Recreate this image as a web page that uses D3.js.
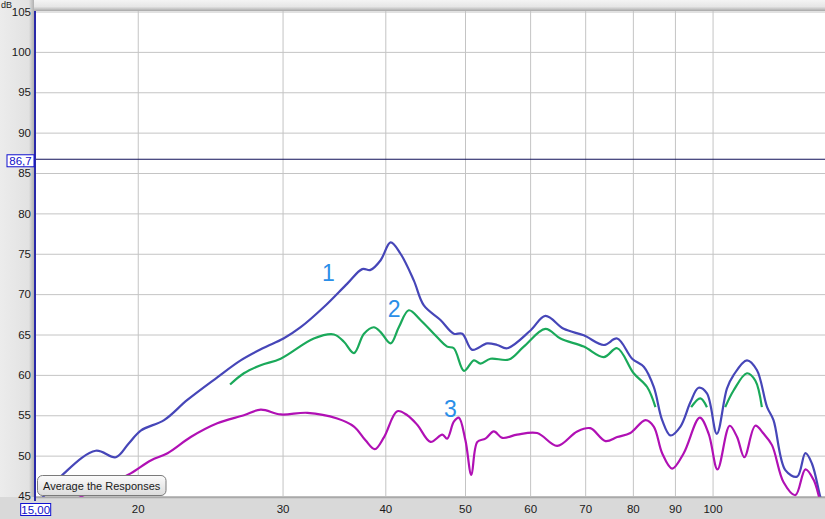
<!DOCTYPE html>
<html><head><meta charset="utf-8">
<script src="https://cdn.jsdelivr.net/npm/d3@7"></script>
<style>
body{margin:0;overflow:hidden;background:#fff}
svg{display:block;font-family:"Liberation Sans",Arial,sans-serif}
</style></head>
<body><svg id="c" width="825" height="519"></svg>
<script>
// ---- data ----
const freqTicks = [20, 30, 40, 50, 60, 70, 80, 90, 100];
const dbTicks = [45, 50, 55, 60, 65, 70, 75, 80, 85, 90, 95, 100, 105];
const markerDb = 86.7;
const markerDbLabel = "86,7";
const startFreqLabel = "15,00";
const seriesLabels = ["1", "2", "3"];

const s1Freq = [15.24,16.27,17.78,18.81,19.5,20.17,21.53,22.98,24.99,26.68,28.38,30.08,31.56,33.68,35.96,37.5,38.38,39.48,40.6,41.74,43.32,44.56,46.68,48.46,49.62,51.02,53.2,54.72,56.28,60.06,62.62,65.92,69.72,73.74,76.56,79.84,82.48,84.82,86.84,88.88,91.4,93.98,96.16,98.44,101.2,104.1,106.1,110.1,113.2,116.5,118.6,122.6,126.7,129.7,132.1,135.2,136.7];
const s1Db   = [44.5,47.8,50.6,49.8,51.5,53.1,54.4,56.9,59.7,61.8,63.3,64.5,65.9,68.4,71.3,73.1,73.0,74.2,76.4,75.0,71.7,68.6,66.8,65.1,65.1,63.1,63.9,63.7,63.3,65.5,67.3,65.7,64.9,63.7,64.5,62.0,61.0,58.5,54.4,52.5,53.6,56.6,58.4,57.7,52.7,58.3,60.0,61.8,60.6,56.0,54.4,48.2,47.4,50.3,49.0,44.9,43.3];

const s2Freq = [25.9,26.92,28.22,29.84,32.74,34.64,35.62,36.64,37.68,38.74,39.48,40.6,41.54,42.72,44.14,45.82,47.56,48.46,49.86,51.26,52.22,53.7,56.52,58.94,62.62,65.32,69.72,73.74,76.56,80.18,83.26,85.22,90,94.18,96.64,98.44,101,103.6,106.1,110.1,112.7,114.8];
const s2Db   = [58.8,60.2,61.2,62.0,64.5,65.0,64.1,62.7,65.1,65.9,65.3,63.9,65.9,68.0,66.8,65.1,63.5,63.3,60.5,61.8,61.4,62.0,61.9,63.5,65.7,64.5,63.5,62.2,63.3,60.2,58.5,56.0,null,56.0,57.1,56.0,null,56.0,58.1,60.2,59.3,56.0];

const s3Freq = [16.58,17.05,18.29,19.61,20.74,21.74,23.2,24.99,26.92,28.22,29.84,32.16,34.96,36.64,37.84,38.84,39.86,41.36,42.54,43.76,45.4,46.92,47.56,48.46,49.14,50.06,50.9,51.76,52.94,54.2,55.5,57.86,61.2,64.72,68.44,71.0,74.1,76.56,79.44,82.86,84.82,86.84,89.3,92.24,96.48,98.92,101.4,104.9,107.1,109.3,112.7,115.4,118.1,122.0,126.1,129.7,132.7,134.9,136.7];
const s3Db   = [43.8,44.9,46.3,47.8,49.4,50.3,52.3,54.0,55.0,55.7,55.1,55.3,54.6,53.6,51.9,50.8,52.3,55.5,55.0,53.8,51.7,52.6,52.1,54.2,54.7,51.9,47.6,51.7,52.1,53.0,52.2,52.6,52.8,51.2,53.0,53.4,51.8,52.3,52.8,54.4,53.6,50.3,48.4,50.3,54.7,52.7,48.3,53.7,52.3,49.8,53.7,52.7,51.3,46.7,45.1,48.3,47.0,44.7,42.6];

const labelFreq = [34.1, 41.0, 48.0];   // number labels: frequency
const labelDb   = [72.6, 68.2, 55.8];   // number labels: level

// ---- layout ----
const svg = d3.select("#c");
const W = 825, H = 519;
const x = d3.scaleLog().domain([15, 137]).range([35, 825]);
const y = d3.scaleLinear().domain([45, 105]).range([496, 11.5]);
const plotTop = 11, plotBottom = 497, plotLeft = 35;

const defs = svg.append("defs");
const gTop = defs.append("linearGradient").attr("id","gTop").attr("x1",0).attr("y1",0).attr("x2",0).attr("y2",1);
gTop.append("stop").attr("offset","0%").attr("stop-color","#f4f4f4");
gTop.append("stop").attr("offset","60%").attr("stop-color","#e6e6e6");
gTop.append("stop").attr("offset","100%").attr("stop-color","#a8a8a8");
const gLeft = defs.append("linearGradient").attr("id","gLeft").attr("x1",0).attr("y1",0).attr("x2",1).attr("y2",0);
gLeft.append("stop").attr("offset","0%").attr("stop-color","#ececec");
gLeft.append("stop").attr("offset","85%").attr("stop-color","#e2e2e2");
gLeft.append("stop").attr("offset","100%").attr("stop-color","#b0b0b0");
const gBtn = defs.append("linearGradient").attr("id","gBtn").attr("x1",0).attr("y1",0).attr("x2",0).attr("y2",1);
gBtn.append("stop").attr("offset","0%").attr("stop-color","#fbfbfb");
gBtn.append("stop").attr("offset","100%").attr("stop-color","#dcdcdc");
defs.append("clipPath").attr("id","clip").append("rect")
  .attr("x", plotLeft).attr("y", plotTop).attr("width", W - plotLeft).attr("height", plotBottom - plotTop);

// backgrounds
svg.append("rect").attr("x",0).attr("y",0).attr("width",W).attr("height",H).attr("fill","#e4e4e4");
svg.append("rect").attr("x",plotLeft).attr("y",plotTop).attr("width",W-plotLeft).attr("height",plotBottom-plotTop).attr("fill","#fff");

// grid
const grid = svg.append("g").attr("clip-path","url(#clip)");
grid.append("g").attr("transform",`translate(0,${plotBottom})`)
  .call(d3.axisBottom(x).tickValues(freqTicks).tickSize(-(plotBottom-plotTop)).tickFormat(""))
  .call(g => { g.select(".domain").remove(); g.selectAll("line").attr("stroke","#c4c4c4"); });
grid.append("g").attr("transform",`translate(${plotLeft},0)`)
  .call(d3.axisLeft(y).tickValues(dbTicks).tickSize(-(W-plotLeft)).tickFormat(""))
  .call(g => { g.select(".domain").remove(); g.selectAll("line").attr("stroke","#c4c4c4"); });

// marker line
svg.append("line").attr("x1",plotLeft).attr("x2",W)
  .attr("y1",y(markerDb)).attr("y2",y(markerDb))
  .attr("stroke","#10105a").attr("stroke-width",1.2);

// curves
const line = d3.line().defined(d => d[1] != null)
  .x(d => x(d[0])).y(d => y(d[1])).curve(d3.curveCatmullRom.alpha(0.5));
const curves = svg.append("g").attr("clip-path","url(#clip)").attr("fill","none")
  .attr("stroke-width",2.2).attr("stroke-linejoin","round");
const seriesData = [
  {f:s1Freq, v:s1Db, c:"#4646b8"},
  {f:s2Freq, v:s2Db, c:"#1aa95a"},
  {f:s3Freq, v:s3Db, c:"#b010b4"}
];
seriesData.forEach(s => {
  curves.append("path").datum(s.f.map((f,i) => [f, s.v[i]])).attr("d", line).attr("stroke", s.c);
});

// number labels
svg.append("g").selectAll("text").data(seriesLabels).join("text")
  .attr("x",(d,i) => x(labelFreq[i])).attr("y",(d,i) => y(labelDb[i]))
  .attr("text-anchor","middle").attr("dominant-baseline","central")
  .attr("font-size",23).attr("fill","#2a8ee8").text(d => d);

// frames/bands
svg.append("rect").attr("x",0).attr("y",0).attr("width",W).attr("height",plotTop).attr("fill","url(#gTop)");
svg.append("rect").attr("x",0).attr("y",0).attr("width",plotLeft-1).attr("height",H).attr("fill","url(#gLeft)");
svg.append("rect").attr("x",0).attr("y",plotBottom).attr("width",W).attr("height",H-plotBottom).attr("fill","#d9d9d9");
svg.append("line").attr("x1",plotLeft).attr("x2",W).attr("y1",plotBottom+0.5).attr("y2",plotBottom+0.5).attr("stroke","#a9a9a9").attr("stroke-width",1.5);
svg.append("line").attr("x1",plotLeft).attr("x2",plotLeft).attr("y1",plotTop).attr("y2",plotBottom+4)
  .attr("stroke","#2a2aa8").attr("stroke-width",2);

// y tick labels
const yAx = svg.append("g").attr("transform",`translate(${plotLeft-3},0)`)
  .call(d3.axisLeft(y).tickValues(dbTicks).tickSize(0).tickPadding(1));
yAx.select(".domain").remove();
yAx.selectAll("text").attr("font-size",11.5).attr("fill","#1a1a1a").attr("font-family","Liberation Sans, Arial, sans-serif");
svg.append("text").attr("x",1).attr("y",8).attr("text-anchor","start").attr("font-size",9).attr("fill","#1a1a1a").text("dB");

// x tick labels
const xAx = svg.append("g").attr("transform",`translate(0,${plotBottom+7})`)
  .call(d3.axisBottom(x).tickValues(freqTicks).tickSize(0).tickPadding(1).tickFormat(d3.format("d")));
xAx.select(".domain").remove();
xAx.selectAll("text").attr("font-size",11.5).attr("fill","#1a1a1a").attr("font-family","Liberation Sans, Arial, sans-serif");

// value boxes
function valueBox(cx, cy, w, h, txt){
  svg.append("rect").attr("x",cx-w/2).attr("y",cy-h/2).attr("width",w).attr("height",h)
    .attr("fill","#fff").attr("stroke","#1010d0").attr("stroke-width",1);
  svg.append("text").attr("x",cx).attr("y",cy).attr("text-anchor","middle").attr("dominant-baseline","central")
    .attr("font-size",11.5).attr("fill","#1010c8").text(txt);
}
valueBox(20.5, y(markerDb)+1.5, 27, 12, markerDbLabel);
valueBox(x(15)+0.7, 509.5, 30, 12, startFreqLabel);

// button
svg.append("rect").attr("x",37.5).attr("y",475.5).attr("width",128.5).attr("height",20).attr("rx",5)
  .attr("fill","url(#gBtn)").attr("stroke","#7a7a7a");
svg.append("text").attr("x",101.7).attr("y",486).attr("text-anchor","middle").attr("dominant-baseline","central")
  .attr("font-size",11).attr("fill","#1a1a1a").text("Average the Responses");
</script></body></html>
